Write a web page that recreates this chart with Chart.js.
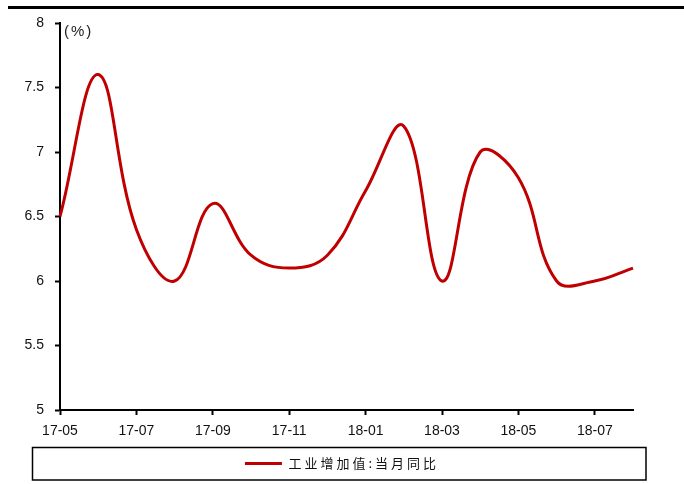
<!DOCTYPE html>
<html>
<head>
<meta charset="utf-8">
<script src="https://cdn.jsdelivr.net/npm/chart.js@4.4.1/dist/chart.umd.min.js"></script>
<style>
  html, body { margin: 0; padding: 0; background: #fff; }
  #wrap { width: 684px; height: 484px; }
</style>
</head>
<body>
<div id="wrap"><canvas id="c" width="684" height="484"></canvas></div>
<script>
// Monthly industrial value added, year-on-year (%)
const months = ['17-05','17-06','17-07','17-08','17-09','17-10','17-11','17-12',
                '18-01','18-02','18-03','18-04','18-05','18-06','18-07','18-08'];
const ivaYoY = [6.5, 7.6, 6.4, 6.0, 6.6, 6.2, 6.1, 6.2,
                6.7, 7.2, 6.0, 7.0, 6.8, 6.0, 6.0, 6.1];
const seriesName = '工业增加值:当月同比';
const unitLabel = '(%)';
const yMin = 5, yMax = 8, yStep = 0.5;

const tickFont = { family: '"Liberation Sans", Arial, sans-serif', size: 14 };

// Runs a legend method with wider letter spacing for the CJK label
function withSpacing(fn, spacing) {
  return function (...args) {
    const ctx = this.ctx;
    const prev = ctx.letterSpacing;
    ctx.letterSpacing = spacing;
    try { return fn.apply(this, args); }
    finally { ctx.letterSpacing = prev; }
  };
}

const legendSpacing = {
  id: 'legendSpacing',
  beforeLayout(chart) {
    const lg = chart.legend;
    if (lg && !lg._spaced) {
      lg.fit = withSpacing(lg.fit, '3px');
      lg.draw = withSpacing(lg.draw, '3px');
      lg._spaced = true;
    }
  }
};

// Frame line across the top, unit label and the box around the legend
const decorations = {
  id: 'decorations',
  afterDraw(chart) {
    const { ctx, chartArea, legend } = chart;
    ctx.save();
    ctx.fillStyle = '#000';
    ctx.fillRect(8, 6, chart.width - 8, 3);

    ctx.font = '15px "Liberation Sans", Arial, sans-serif';
    ctx.letterSpacing = '2px';
    ctx.textBaseline = 'middle';
    ctx.textAlign = 'left';
    ctx.fillStyle = '#222';
    ctx.fillText(unitLabel, chartArea.left + 4, chartArea.top + 9);

    ctx.letterSpacing = '0px';
    ctx.strokeStyle = '#000';
    ctx.lineWidth = 1.5;
    ctx.strokeRect(32.5, legend.top + 0.5, 613.5, legend.bottom - legend.top - 0.5);
    ctx.restore();
  }
};

new Chart(document.getElementById('c'), {
  type: 'line',
  data: {
    labels: months,
    datasets: [{
      label: seriesName,
      data: ivaYoY,
      borderColor: '#C00000',
      backgroundColor: '#C00000',
      borderWidth: 3,
      pointRadius: 0,
      pointHoverRadius: 0,
      tension: 0.4,
      fill: false
    }]
  },
  options: {
    responsive: false,
    animation: false,
    devicePixelRatio: 1,
    layout: { padding: { top: 23, left: 0, right: 0, bottom: 4 } },
    plugins: {
      tooltip: { enabled: false },
      legend: {
        position: 'bottom',
        labels: {
          usePointStyle: true,
          pointStyle: 'line',
          pointStyleWidth: 37,
          padding: 10,
          color: '#111',
          font: { family: '"Noto Sans CJK SC", sans-serif', size: 13 }
        }
      }
    },
    scales: {
      x: {
        type: 'category',
        offset: false,
        grid: {
          drawOnChartArea: false,
          drawTicks: true,
          tickLength: 5,
          tickWidth: 2,
          tickColor: c => (c.index % 2 === 0 ? '#000' : 'rgba(0,0,0,0)')
        },
        border: { display: true, color: '#000', width: 2 },
        ticks: {
          autoSkip: false,
          maxRotation: 0,
          minRotation: 0,
          padding: 8,
          color: '#111',
          font: tickFont,
          callback: (v, i) => (i % 2 === 0 ? months[i] : '')
        },
        afterFit: s => { s.height = 37; s.paddingRight = 51; s.paddingLeft = 0; }
      },
      y: {
        min: yMin,
        max: yMax,
        grid: {
          drawOnChartArea: false,
          drawTicks: true,
          tickLength: 5,
          tickWidth: 2,
          tickColor: '#000'
        },
        border: { display: true, color: '#000', width: 2 },
        ticks: {
          stepSize: yStep,
          padding: 11,
          color: '#111',
          font: tickFont,
          callback: v => String(Number(v))
        },
        afterFit: s => { s.width = 60; }
      }
    }
  },
  plugins: [legendSpacing, decorations]
});
</script>
</body>
</html>
